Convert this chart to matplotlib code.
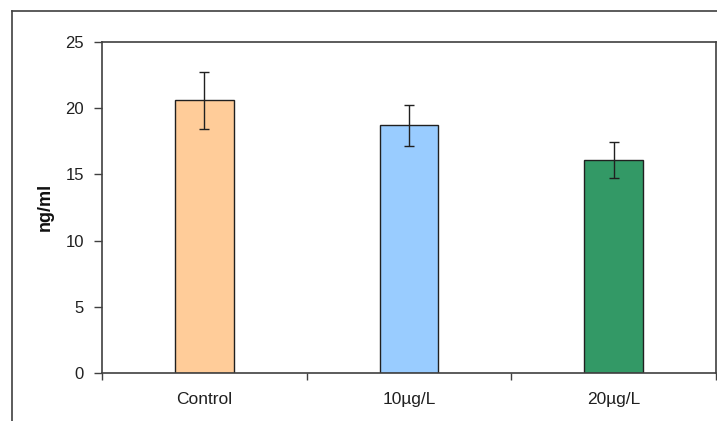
import numpy as np
import matplotlib
matplotlib.use('Agg')
import matplotlib.pyplot as plt
from matplotlib.lines import Line2D

# data
groups = ['Control', '10\u00b5g/L', '20\u00b5g/L']
means = [20.6, 18.7, 16.1]
errs = [2.15, 1.55, 1.37]
colors = ['#FFCC99', '#99CCFF', '#339966']

plt.rcParams['font.family'] = ['Liberation Sans', 'DejaVu Sans']

W, H = 717, 421
fig = plt.figure(figsize=(W/100, H/100), dpi=100)

# outer chart frame (only top and left visible in the crop)
fig.add_artist(Line2D([12/W, 1.0], [1-11/H, 1-11/H], color='#404040', lw=1.2, transform=fig.transFigure))
fig.add_artist(Line2D([12/W, 12/W], [1-11/H, 0.0], color='#404040', lw=1.2, transform=fig.transFigure))

ax = fig.add_axes([102/W, 1-373/H, 614/W, 331/H])
x = np.arange(len(groups))
ax.bar(x, means, width=0.287, color=colors, edgecolor='#202020', linewidth=1.0, zorder=2)
ax.errorbar(x, means, yerr=errs, fmt='none', ecolor='#202020', elinewidth=1.0,
            capsize=3.8, capthick=1.0, zorder=3)

ax.set_xlim(-0.5, 2.5)
ax.set_ylim(0, 25)
ax.set_yticks([0, 5, 10, 15, 20, 25])
ax.tick_params(axis='y', direction='out', length=6, width=1, color='#404040',
               pad=7, labelsize=12, labelcolor='#202020')

ax.set_xticks(x)
ax.set_xticklabels(groups)
ax.tick_params(axis='x', which='major', length=0, pad=14, labelsize=12.5, labelcolor='#202020')
ax.set_xticks([-0.5, 0.5, 1.5, 2.5], minor=True)
ax.tick_params(axis='x', which='minor', direction='out', length=5, width=1, color='#404040')

for s in ax.spines.values():
    s.set_color('#404040')
    s.set_linewidth(1.2)

fig.text(45/W, 1-207/H, 'ng/ml', rotation=90, ha='center', va='center',
         fontsize=13, fontweight='bold', color='#101010')

fig.savefig('out.png', dpi=100)
